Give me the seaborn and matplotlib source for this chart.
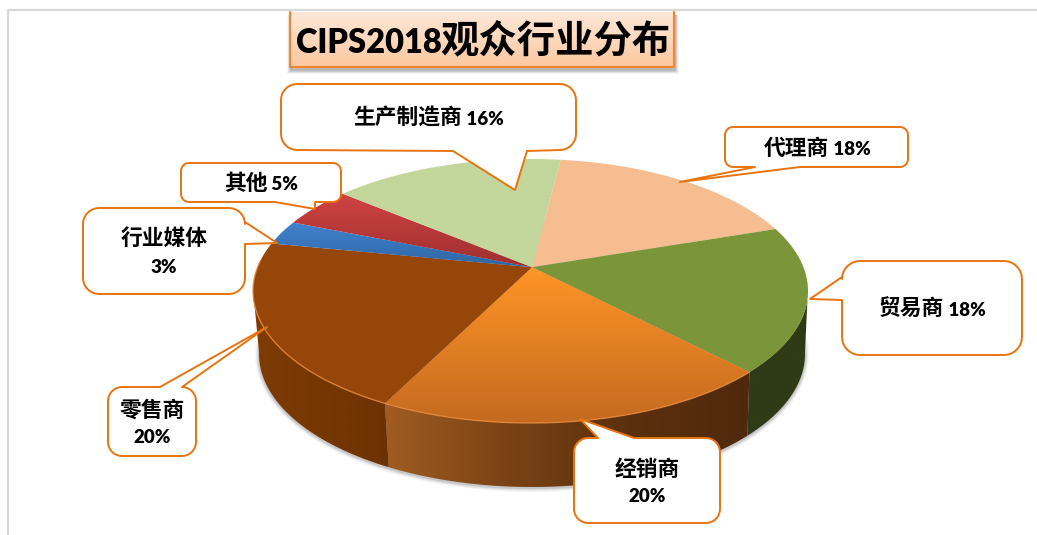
import numpy as np
import matplotlib
matplotlib.use('Agg')
import matplotlib.pyplot as plt
import seaborn as sns
from matplotlib.patches import Polygon, Rectangle

sns.set_theme(style='white')
plt.rcParams['font.family'] = ['Lato', 'Noto Sans CJK SC', 'DejaVu Sans']

# slices, clockwise starting from the top of the pie
names = ['代理商', '贸易商', '经销商', '零售商', '行业媒体', '其他', '生产制造商']
values = [17.8, 17.8, 19.7, 20.7, 3, 5, 16]
top_colors = [['#f6bd90', '#f6bd90'], ['#7b953a', '#7b953a'], ['#ff9526', '#c46a20'],
              ['#97460a', '#97460a'], ['#4183ce', '#2f66a5'], ['#d04343', '#a02f2f'],
              ['#c3d69b', '#c3d69b']]
wall_colors = [['#f6bd90', '#f6bd90'], ['#2f3a16', '#2f3a16'],
               ['#a05c22', '#7a4315', '#5c300e', '#50290c'],
               ['#7f3c03', '#6d3203'], ['#2f66a5', '#2f66a5'], ['#a02f2f', '#a02f2f'],
               ['#c3d69b', '#c3d69b']]
start_angle = 7.5

# callouts: box, tail, text lines as (centre x, centre y, cjk part, latin part)
box_coords = [(725, 127, 908, 167), (842, 261, 1022, 355), (574, 438, 720, 523),
              (108, 387, 196, 456), (83, 208, 245, 294), (181, 163, 341, 202),
              (281, 84, 576, 150)]
box_sides = ['bottom', 'left', 'top', 'top', 'right', 'bottom', 'bottom']
box_tails = [[(800, 167), (680, 182), (755, 167)],
             [(842, 300), (810, 299), (842, 277)],
             [(598, 438), (580, 419), (634, 438)],
             [(160, 387), (267, 327), (182, 387)],
             [(245, 222), (277, 243), (245, 244)],
             [(315, 202), (315, 209), (275, 202)],
             [(527, 151), (515, 190), (453, 151)]]
box_radius = [8, 18, 14, 14, 16, 8, 16]
box_text = [[(817, 148, '代理商', ' 18%')], [(932, 309, '贸易商', ' 18%')],
            [(647, 469, '经销商', ''), (647, 495, '', '20%')],
            [(152, 410, '零售商', ''), (152, 436, '', '20%')],
            [(164, 238, '行业媒体', ''), (164, 266, '', '3%')],
            [(261, 183, '其他', ' 5%')], [(429, 118, '生产制造商', ' 16%')]]

title_latin = 'CIPS2018'
title_cjk = '观众行业分布'
line_orange = '#e8730f'

W, H = 1037, 535
fig = plt.figure(figsize=(W / 100, H / 100), dpi=100)
ax = fig.add_axes([0, 0, 1, 1])
ax.set_xlim(0, W)
ax.set_ylim(H, 0)
renderer = fig.canvas.get_renderer()

cx, cy, rx, ry = 530.5, 291, 277.5, 132     # top ellipse
bx, by, brx, bry = 532, 354, 273, 133       # bottom of the wall
a = 0.18                                    # perspective shift of the apex


def persp(deg):
    # circle -> circle, centre moved up by a (gives the off-centre apex)
    t = np.radians(deg)
    u, v = np.sin(t), np.cos(t)
    d = 1 + a * v
    return u * np.sqrt(1 - a ** 2) / d, (v + a) / d


def gradient(poly_pts, colors, horizontal, z):
    cmap = sns.blend_palette(colors, n_colors=64, as_cmap=True)
    pts = np.array(poly_pts)
    x0, x1 = pts[:, 0].min(), pts[:, 0].max()
    y0, y1 = pts[:, 1].min(), pts[:, 1].max()
    ramp = np.linspace(0, 1, 128)
    ramp = ramp[None, :] if horizontal else ramp[:, None]
    im = ax.imshow(ramp, extent=(x0, x1, y1, y0), cmap=cmap, aspect='auto',
                   vmin=0, vmax=1, zorder=z)
    patch = Polygon(pts, closed=True, transform=ax.transData, fc='none', ec='none')
    ax.add_patch(patch)
    im.set_clip_path(patch)


def mixed_text(x, y, cjk, latin, cjk_size, latin_size, z):
    # cjk and latin runs have different sizes in the original, so place them side by side
    parts = []
    if cjk:
        parts.append(ax.text(0, y, cjk, fontsize=cjk_size, fontweight='bold', va='baseline',
                             family=['Noto Sans CJK SC'], color='black', zorder=z))
    if latin:
        parts.append(ax.text(0, y, latin, fontsize=latin_size, fontweight='heavy', va='baseline',
                             family=['Lato'], color='black', zorder=z))
    widths = [p.get_window_extent(renderer).width for p in parts]
    left = x - sum(widths) / 2
    for p, w in zip(parts, widths):
        p.set_x(left)
        left += w


edges = start_angle + np.cumsum([0] + values) / sum(values) * 360

# soft shadow below the pie
tt = np.linspace(0, 2 * np.pi, 200)
for grow, al in zip([4, 3, 2, 1], [0.05, 0.08, 0.1, 0.14]):
    ax.add_patch(Polygon(np.c_[bx + (brx + grow) * np.cos(tt), by + 1 + (bry + grow) * np.sin(tt)],
                         fc='#555555', ec='none', alpha=al, zorder=1))

# walls first, then the top surface
for i in range(len(values)):
    th = np.linspace(edges[i], edges[i + 1], 120)
    u, v = persp(th)
    vis = v <= 0.02
    if vis.sum() > 1:
        uu, vv = u[vis], v[vis]
        upper = np.c_[cx + rx * uu, cy - ry * vv]
        lower = np.c_[bx + brx * uu, by - bry * vv]
        gradient(np.vstack([upper, lower[::-1]]), wall_colors[i], True, 2)

for i in range(len(values)):
    th = np.linspace(edges[i], edges[i + 1], 120)
    u, v = persp(th)
    rim = np.c_[cx + rx * u, cy - ry * v]
    apex = (cx + 1.5, cy - ry * a)
    gradient(np.vstack([[apex], rim]), top_colors[i], False, 3)

# light rim along the front of the brown and orange slices
th = np.linspace(edges[2], edges[4] - 8, 200)
u, v = persp(th)
ax.plot(cx + rx * u, cy - ry * v, color='#e98a3a', lw=1.0, alpha=0.8, zorder=4)


def callout(box, side, tail, r):
    x0, y0, x1, y1 = box
    arc = np.linspace(0, np.pi / 2, 8)
    tl = [(x0 + r - r * np.cos(t), y0 + r - r * np.sin(t)) for t in arc]
    tr = [(x1 - r + r * np.sin(t), y0 + r - r * np.cos(t)) for t in arc]
    br = [(x1 - r + r * np.cos(t), y1 - r + r * np.sin(t)) for t in arc]
    bl = [(x0 + r - r * np.sin(t), y1 - r + r * np.cos(t)) for t in arc]
    pts = list(tl)
    if side == 'top':
        pts += tail
    pts += tr
    if side == 'right':
        pts += tail
    pts += br
    if side == 'bottom':
        pts += tail
    pts += bl
    if side == 'left':
        pts += tail
    return Polygon(pts, closed=True, fc='white', ec=line_orange, lw=1.4,
                   joinstyle='round', zorder=6)


for i in range(len(box_coords)):
    ax.add_patch(callout(box_coords[i], box_sides[i], box_tails[i], box_radius[i]))
    for tx, ty, cjk, latin in box_text[i]:
        mixed_text(tx, ty + 7, cjk, latin, 15.7, 13.5, 7)

# faint frame of the pasted chart
ax.plot([8, 8, W], [H, 10, 10], color='#d9d9d9', lw=1.6, zorder=0)

# title box, its top runs into the frame line
for grow, al in zip([4, 3, 2, 1], [0.06, 0.1, 0.14, 0.18]):
    ax.add_patch(Rectangle((290 - grow + 1, 15), 384 + 2 * grow, 52 + 3 + grow, fc='#555555',
                           ec='none', alpha=al, zorder=5))
gradient([(290, 12), (674, 12), (674, 67), (290, 67)], ['#fee8d8', '#fbc8a0'], False, 6)
ax.plot([290, 290, 674, 674], [12, 67, 67, 12], color='#f0862e', lw=1.5, zorder=7)
mixed_text(481, 53, title_cjk, '', 27.6, 24, 8)
ax.texts[-1].set_x(440)
ax.text(296, 53, title_latin, fontsize=23.5, fontweight='heavy', family=['Lato'],
        va='baseline', color='black', zorder=8)

ax.set_xlim(0, W)
ax.set_ylim(H, 0)
ax.axis('off')
fig.savefig('out.png', dpi=100, facecolor='white')
